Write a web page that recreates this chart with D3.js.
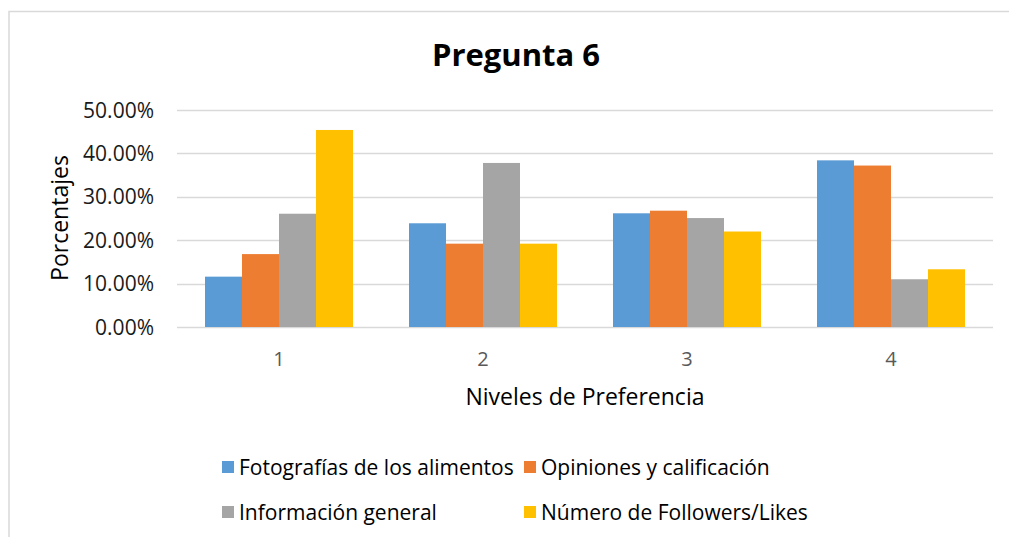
<!DOCTYPE html>
<html>
<head>
<meta charset="utf-8">
<script src="https://cdn.jsdelivr.net/npm/d3@7"></script>
<style>
  body { margin: 0; background: #fff; }
  text { font-family: "Open Sans", sans-serif; }
</style>
</head>
<body>
<div id="chart"></div>
<script>
const width = 1009;
const height = 537;

// data
const categories = ["1", "2", "3", "4"];
const seriesNames = ["Fotografías de los alimentos", "Opiniones y calificación", "Información general", "Número de Followers/Likes"];
const fotografias = [0.116, 0.239, 0.262, 0.384];
const opiniones = [0.168, 0.192, 0.268, 0.372];
const informacion = [0.261, 0.378, 0.251, 0.110];
const followers = [0.454, 0.192, 0.220, 0.133];
const yTicks = [0, 0.1, 0.2, 0.3, 0.4, 0.5];
const colors = ["#5b9bd5", "#ed7d31", "#a5a5a5", "#ffc000"];

const seriesValues = [fotografias, opiniones, informacion, followers];
const rows = categories.map((c, i) => ({
    cat: c,
    vals: seriesNames.map((s, j) => ({ name: s, value: seriesValues[j][i], color: colors[j] }))
}));

const margin = { top: 110, left: 177, right: 16, bottom: 210 };

const svg = d3.select("#chart")
    .append("svg")
        .attr("width", width)
        .attr("height", height);

// chart border
svg.append("rect")
    .attr("x", 9).attr("y", 11.5)
    .attr("width", width + 20).attr("height", height + 20)
    .attr("fill", "#fff")
    .attr("stroke", "#d9d9d9")
    .attr("stroke-width", 1.5);

const x0 = d3.scaleBand()
    .domain(categories)
    .range([margin.left, width - margin.right]);

const x1 = d3.scaleBand()
    .domain(seriesNames)
    .range([0, x0.bandwidth()])
    .paddingOuter(0.757);

const y = d3.scaleLinear()
    .domain([0, 0.5])
    .range([height - margin.bottom, margin.top]);

// gridlines
svg.append("g")
    .selectAll("line")
    .data(yTicks)
    .join("line")
        .attr("x1", margin.left)
        .attr("x2", width - margin.right)
        .attr("y1", d => Math.round(y(d)) + 0.5)
        .attr("y2", d => Math.round(y(d)) + 0.5)
        .attr("stroke", "#d9d9d9")
        .attr("stroke-width", 1.5);

// y tick labels
svg.append("g")
    .selectAll("text")
    .data(yTicks)
    .join("text")
        .attr("x", 154)
        .attr("y", d => y(d))
        .attr("dy", "0.36em")
        .attr("text-anchor", "end")
        .attr("font-size", 21)
        .attr("fill", "#1a1a1a")
        .text(d => d3.format(".2%")(d));

// bars
const groups = svg.append("g")
    .selectAll("g")
    .data(rows)
    .join("g")
        .attr("transform", d => "translate(" + x0(d.cat) + ",0)");

groups.selectAll("rect")
    .data(d => d.vals)
    .join("rect")
        .attr("x", d => x1(d.name))
        .attr("width", x1.bandwidth())
        .attr("y", d => y(d.value))
        .attr("height", d => y(0) - y(d.value))
        .attr("fill", d => d.color);

// x tick labels
svg.append("g")
    .selectAll("text")
    .data(categories)
    .join("text")
        .attr("x", d => x0(d) + x0.bandwidth() / 2)
        .attr("y", 366)
        .attr("text-anchor", "middle")
        .attr("font-size", 20)
        .attr("fill", "#595959")
        .text(d => d);

// title
svg.append("text")
    .attr("x", 516)
    .attr("y", 66)
    .attr("text-anchor", "middle")
    .attr("font-size", 31)
    .attr("font-weight", "bold")
    .attr("fill", "#000")
    .text("Pregunta 6");

// axis titles
svg.append("text")
    .attr("x", 585)
    .attr("y", 405)
    .attr("text-anchor", "middle")
    .attr("font-size", 23)
    .attr("fill", "#000")
    .text("Niveles de Preferencia");

svg.append("text")
    .attr("transform", "translate(68,218) rotate(-90)")
    .attr("text-anchor", "middle")
    .attr("font-size", 23)
    .attr("fill", "#000")
    .text("Porcentajes");

// legend
const legendPos = [[222, 467], [524, 467], [222, 512], [524, 512]];
const legend = svg.append("g")
    .selectAll("g")
    .data(seriesNames)
    .join("g")
        .attr("transform", (d, i) => "translate(" + legendPos[i][0] + "," + legendPos[i][1] + ")");

legend.append("rect")
    .attr("x", 0).attr("y", -6)
    .attr("width", 12).attr("height", 12)
    .attr("fill", (d, i) => colors[i]);

legend.append("text")
    .attr("x", 17)
    .attr("dy", "0.36em")
    .attr("font-size", 21)
    .attr("fill", "#000")
    .text(d => d);
</script>
</body>
</html>
